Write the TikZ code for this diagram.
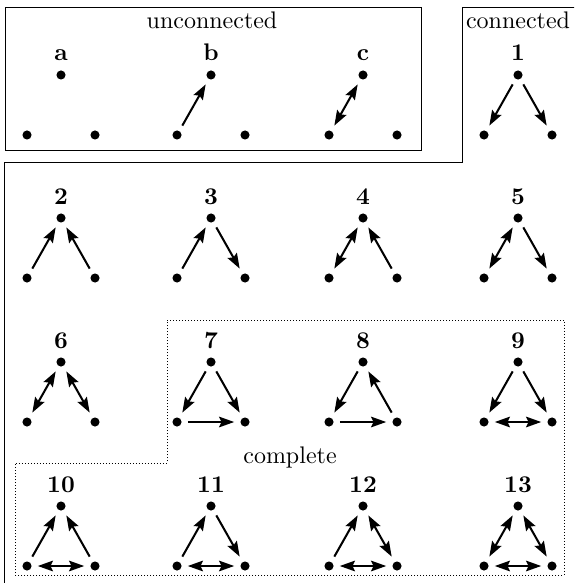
\documentclass[tikz,border=0pt]{standalone}
\usetikzlibrary{arrows.meta}
\tikzset{
  dot/.style={circle,fill,inner sep=0pt,minimum size=3.8pt},
  lbl/.style={font=\bfseries,anchor=base,inner sep=0pt},
  region/.style={anchor=base,inner sep=0pt},
  frame/.style={line width=0.4pt},
  dotframe/.style={line width=0.4pt,dash pattern=on 0.4pt off 0.85pt},
  link/.style={line width=0.85pt,shorten >=2.4pt,shorten <=2.4pt},
  arr/.style={link,-{Stealth[length=6.3pt,width=4.4pt,inset=1pt]}},
  darr/.style={link,{Stealth[length=6.3pt,width=4.4pt,inset=1pt]}-{Stealth[length=6.3pt,width=4.4pt,inset=1pt]}},
}
\newcommand{\tri}[4]{%
  \node[dot] (#1A) at (#2,#3) {};
  \node[dot] (#1L) at (#2-34,#3+60) {};
  \node[dot] (#1R) at (#2+34,#3+60) {};
  \node[lbl] (#1t) at (#2,#3-14) {#4};}
\begin{document}
\begin{tikzpicture}[x=0.41667pt,y=-0.41667pt]
\useasboundingbox (0,0) rectangle (574,583);
\clip (0,0) rectangle (574,583);
% frames
\draw[frame] (5,7) rectangle (421,150);
\draw[frame] (580,7) -- (462,7) -- (462,162) -- (4,162) -- (4,590);
\draw[dotframe] (167,320) -- (564,320) -- (564,575) -- (15,575) -- (15,463) -- (167,463) -- cycle;
\node[region] (unc) at (212,29) {unconnected};
\node[region] (con) at (518,29) {connected};
\node[region] (cpl) at (290,463) {complete};
% row 1
\tri{a}{61}{75}{a}
\tri{b}{211}{75}{b}
\tri{c}{363}{75}{c}
\tri{g1}{518}{75}{1}
\draw[arr] (bL) -- (bA);
\draw[darr] (cL) -- (cA);
\draw[arr] (g1A) -- (g1L);
\draw[arr] (g1A) -- (g1R);
% row 2
\tri{g2}{61}{218}{2}
\tri{g3}{211}{218}{3}
\tri{g4}{363}{218}{4}
\tri{g5}{518}{218}{5}
\draw[arr] (g2L) -- (g2A);
\draw[arr] (g2R) -- (g2A);
\draw[arr] (g3L) -- (g3A);
\draw[arr] (g3A) -- (g3R);
\draw[darr] (g4L) -- (g4A);
\draw[arr] (g4R) -- (g4A);
\draw[darr] (g5L) -- (g5A);
\draw[arr] (g5A) -- (g5R);
% row 3
\tri{g6}{61}{362}{6}
\tri{g7}{211}{362}{7}
\tri{g8}{363}{362}{8}
\tri{g9}{518}{362}{9}
\draw[darr] (g6L) -- (g6A);
\draw[darr] (g6R) -- (g6A);
\draw[arr] (g7A) -- (g7L);
\draw[arr] (g7A) -- (g7R);
\draw[arr] (g7L) -- (g7R);
\draw[arr] (g8A) -- (g8L);
\draw[arr] (g8R) -- (g8A);
\draw[arr] (g8L) -- (g8R);
\draw[arr] (g9A) -- (g9L);
\draw[arr] (g9A) -- (g9R);
\draw[darr] (g9L) -- (g9R);
% row 4
\tri{g10}{61}{506}{10}
\tri{g11}{211}{506}{11}
\tri{g12}{363}{506}{12}
\tri{g13}{518}{506}{13}
\draw[arr] (g10L) -- (g10A);
\draw[arr] (g10R) -- (g10A);
\draw[darr] (g10L) -- (g10R);
\draw[arr] (g11L) -- (g11A);
\draw[arr] (g11A) -- (g11R);
\draw[darr] (g11L) -- (g11R);
\draw[arr] (g12L) -- (g12A);
\draw[darr] (g12A) -- (g12R);
\draw[darr] (g12L) -- (g12R);
\draw[darr] (g13L) -- (g13A);
\draw[darr] (g13A) -- (g13R);
\draw[darr] (g13L) -- (g13R);
\end{tikzpicture}
\end{document}
